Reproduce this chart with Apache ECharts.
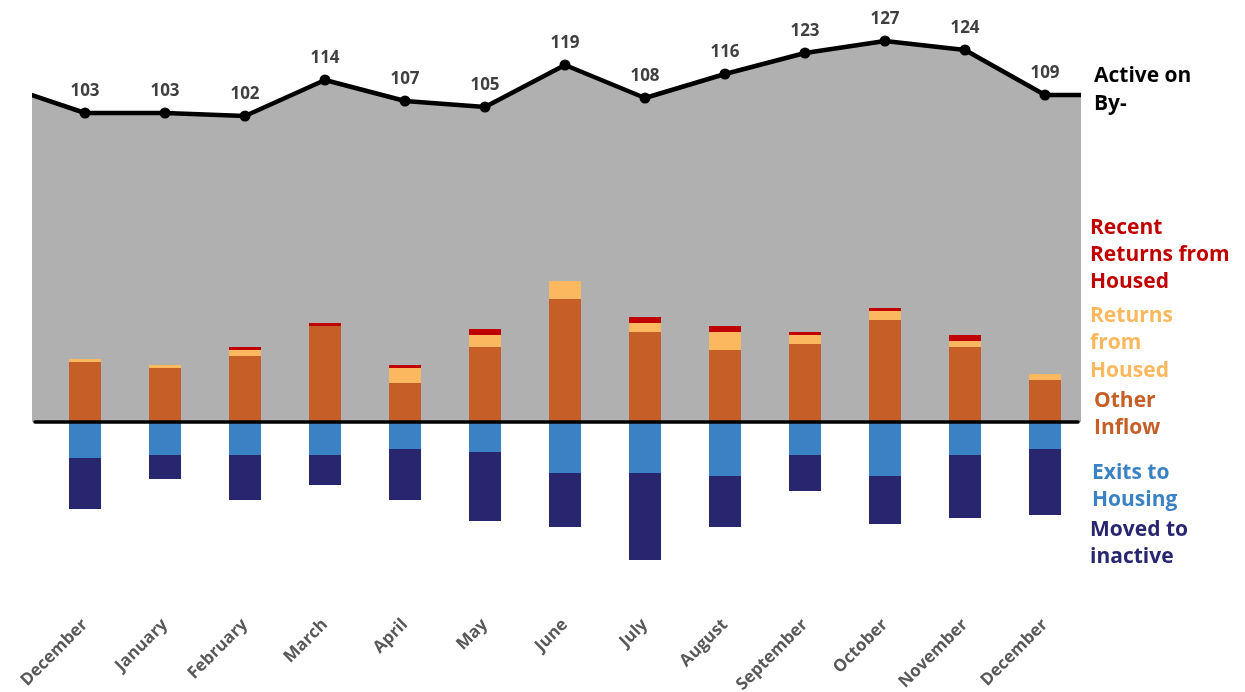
<!DOCTYPE html>
<html>
<head>
<meta charset="utf-8">
<script src="https://cdn.jsdelivr.net/npm/echarts@6/dist/echarts.min.js"></script>
<style>
html,body{margin:0;padding:0;background:#fff;}
#chart{width:1245px;height:692px;}
</style>
</head>
<body>
<div id="chart"></div>
<script>
// ---- data ----
const months = ['December','January','February','March','April','May','June','July','August','September','October','November','December'];
const active = [103,103,102,114,107,105,119,108,116,123,127,124,109];
const activeBefore = 112;   // trend entering from the left edge
const activeAfter = 109;    // trend leaving at the right edge
const otherInflow = [20,18,22,32,13,25,41,30,24,26,34,25,14];
const returnsHoused = [1,1,2,0,5,4,6,3,6,3,3,2,2];
const recentReturns = [0,0,1,1,1,2,0,2,2,1,1,2,0];
const exitsHousing = [12,11,11,11,9,10,17,17,18,11,18,11,9];
const movedInactive = [17,8,15,10,17,23,18,29,17,12,16,21,22];

const FONT = '"Open Sans", "DejaVu Sans", sans-serif';
const C = {
  area:'#b0b0b0', other:'#c55f27', ret:'#fbb85e', recent:'#c00000',
  exits:'#3b82c5', moved:'#27266f'
};

const areaData = [[-1, activeBefore]];
active.forEach((v,i)=>areaData.push({value:[i,v], symbol:'circle', label:{show:true}}));
areaData.push([active.length, activeAfter]);

const chart = echarts.init(document.getElementById('chart'), null, {renderer:'canvas'});
const grids = [
  {left:35, right:167, top:2, bottom:90, outerBoundsMode:'none', containLabel:false},
  {left:45, right:160, top:2, bottom:90, outerBoundsMode:'none', containLabel:false}
];
const yCommon = {type:'value', min:-60, max:140, show:false, splitLine:{show:false}};

chart.setOption({
  animation:false,
  backgroundColor:'#fff',
  grid: grids,
  xAxis:[
    {gridIndex:0, type:'value', min:-0.625, max:12.4125, z:10,
     axisLine:{show:true, onZero:true, lineStyle:{color:'#000', width:3.5}},
     axisTick:{show:false}, axisLabel:{show:false}, splitLine:{show:false}},
    {gridIndex:1, type:'category', data:months, z:1,
     axisLine:{show:false, onZero:false}, axisTick:{show:false}, splitLine:{show:false},
     axisLabel:{rotate:45, margin:20, color:'#595959', fontFamily:FONT, fontWeight:'bold', fontSize:17, interval:0}}
  ],
  yAxis:[
    Object.assign({gridIndex:0}, yCommon),
    Object.assign({gridIndex:1}, yCommon)
  ],
  series:[
    {type:'line', xAxisIndex:0, yAxisIndex:0, data:areaData, clip:true, z:1,
     symbol:'none', symbolSize:11,
     lineStyle:{color:'#000', width:4.5}, itemStyle:{color:'#000'},
     areaStyle:{color:C.area, opacity:1},
     label:{show:false, position:'top', distance:8, color:'#404040', fontFamily:FONT, fontWeight:'bold', fontSize:17,
            formatter:p=>p.value[1]}},
    {name:'Other Inflow', type:'bar', xAxisIndex:1, yAxisIndex:1, stack:'flow', barWidth:32, z:3,
     itemStyle:{color:C.other}, data:otherInflow},
    {name:'Returns from Housed', type:'bar', xAxisIndex:1, yAxisIndex:1, stack:'flow', barWidth:32, z:3,
     itemStyle:{color:C.ret}, data:returnsHoused},
    {name:'Recent Returns from Housed', type:'bar', xAxisIndex:1, yAxisIndex:1, stack:'flow', barWidth:32, z:3,
     itemStyle:{color:C.recent}, data:recentReturns},
    {name:'Exits to Housing', type:'bar', xAxisIndex:1, yAxisIndex:1, stack:'flow', barWidth:32, z:3,
     itemStyle:{color:C.exits}, data:exitsHousing.map(v=>-v)},
    {name:'Moved to inactive', type:'bar', xAxisIndex:1, yAxisIndex:1, stack:'flow', barWidth:32, z:3,
     itemStyle:{color:C.moved}, data:movedInactive.map(v=>-v)}
  ],
  graphic:[
    {type:'text', left:1094, top:62, style:{text:'Active on\nBy-', font:'bold 21px '+FONT, fill:'#000', lineHeight:28}},
    {type:'text', left:1090, top:215, style:{text:'Recent\nReturns from\nHoused', font:'bold 21px '+FONT, fill:C.recent, lineHeight:27}},
    {type:'text', left:1090, top:302, style:{text:'Returns\nfrom\nHoused', font:'bold 21px '+FONT, fill:C.ret, lineHeight:27.5}},
    {type:'text', left:1094, top:388, style:{text:'Other\nInflow', font:'bold 21px '+FONT, fill:C.other, lineHeight:27}},
    {type:'text', left:1092, top:460, style:{text:'Exits to\nHousing', font:'bold 21px '+FONT, fill:C.exits, lineHeight:27}},
    {type:'text', left:1090, top:517, style:{text:'Moved to\ninactive', font:'bold 21px '+FONT, fill:C.moved, lineHeight:27}}
  ]
});
</script>
</body>
</html>
